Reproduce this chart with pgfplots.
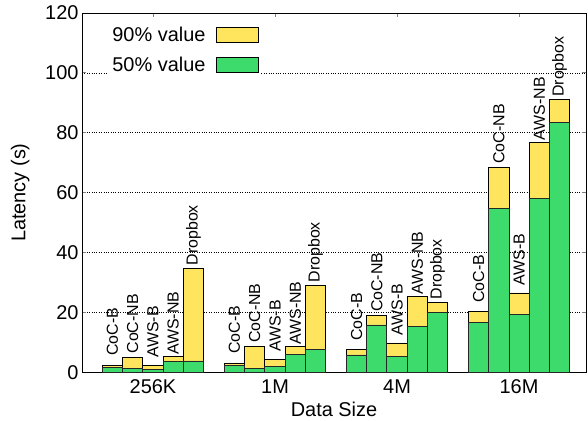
\documentclass[border=0pt]{standalone}
\usepackage{fontspec}
\setmainfont{Liberation Sans}
\usepackage{graphicx}
\usepackage{pgfplots}
\usepackage{pgfplotstable}
\pgfplotsset{compat=1.18}

\definecolor{pyellow}{HTML}{FFE45E}
\definecolor{pgreen}{HTML}{3DDB6C}

% latency (s); g = data size group (0=256K, 1=1M, 2=4M, 3=16M)
\pgfplotstableread{
g cocb cocnb awsb awsnb dropbox
0 2.4  5.1   2.4  5.3   34.7
1 3.1  8.7   4.4  8.7   29.0
2 7.5  19.0  9.8  25.4  23.3
3 20.2 68.5  26.5 76.9  91.0
}\pninety
\pgfplotstableread{
g cocb cocnb awsb awsnb dropbox
0 1.7  1.3   1.1  3.7   3.8
1 2.4  1.2   2.0  6.1   7.7
2 5.8  15.8  5.3  15.3  20.0
3 16.7 54.7  19.2 58.1  83.4
}\pfifty

% bar width in axis units
\def\bw{0.166}
% bar label: vertical text centred 33bp above the bar top
\newcommand{\blab}[1]{\rotatebox{90}{\makebox[66bp][c]{#1}}}

\begin{document}
\begin{tikzpicture}
\begin{axis}[
  at={(0,0)}, anchor=south west,
  scale only axis,
  width=504bp, height=359.3bp,
  xmin=-0.582, xmax=3.549,
  ymin=0, ymax=120,
  ytick={0,20,...,120},
  xtick={0,1,2,3},
  xticklabels={256K,1M,4M,16M},
  ymajorgrids,
  grid style={dotted, black, line width=0.6pt},
  major tick length=4bp,
  tick style={gray, line width=0.8pt},
  axis line style={black, line width=0.9pt},
  /pgf/number format/assume math mode=true,
  ticklabel style={font=\fontsize{20}{24}\selectfont},
  xticklabel style={yshift=-4bp},
  xlabel={Data Size},
  ylabel={Latency (s)},
  label style={font=\fontsize{20}{24}\selectfont},
  xlabel style={yshift=-1bp},
  ylabel style={yshift=9bp},
  clip=false,
  legend cell align=right,
  legend plot pos=right,
  legend style={draw=none, fill=white, at={(0.052,0.972)}, anchor=north west,
    font=\fontsize{20}{24}\selectfont, row sep=10bp, column sep=9bp, inner sep=2bp},
  bar width=\bw,
  yellowbar/.style={ybar, fill=pyellow, draw=black, line width=0.8pt, forget plot},
  greenbar/.style={ybar, fill=pgreen, draw=black!85, line width=0.8pt, forget plot},
  barlabel/.style={only marks, mark=none, forget plot,
    nodes near coords={\blab{#1}},
    nodes near coords style={font=\fontsize{16}{19}\selectfont, black,
      inner sep=0pt, anchor=south}},
]

\addlegendimage{area legend, legend image code/.code={\draw[fill=pyellow, draw=black, line width=0.8pt] (0bp,-7.5bp) rectangle (42bp,7.5bp);}}
\addlegendentry{90\% value}
\addlegendimage{area legend, legend image code/.code={\draw[fill=pgreen, draw=black, line width=0.8pt] (0bp,-7.5bp) rectangle (42bp,7.5bp);}}
\addlegendentry{50\% value}

% 90% values (full height)
\addplot[yellowbar, bar shift=-2*\bw] table[x=g, y=cocb]    {\pninety};
\addplot[yellowbar, bar shift=-1*\bw] table[x=g, y=cocnb]   {\pninety};
\addplot[yellowbar, bar shift=0]      table[x=g, y=awsb]    {\pninety};
\addplot[yellowbar, bar shift=\bw]    table[x=g, y=awsnb]   {\pninety};
\addplot[yellowbar, bar shift=2*\bw]  table[x=g, y=dropbox] {\pninety};

% 50% values, drawn over the 90% bars
\addplot[greenbar, bar shift=-2*\bw] table[x=g, y=cocb]    {\pfifty};
\addplot[greenbar, bar shift=-1*\bw] table[x=g, y=cocnb]   {\pfifty};
\addplot[greenbar, bar shift=0]      table[x=g, y=awsb]    {\pfifty};
\addplot[greenbar, bar shift=\bw]    table[x=g, y=awsnb]   {\pfifty};
\addplot[greenbar, bar shift=2*\bw]  table[x=g, y=dropbox] {\pfifty};

% system names above the 90% bars
\addplot[barlabel=CoC-B]   table[x expr=\thisrow{g}-2*\bw, y=cocb]    {\pninety};
\addplot[barlabel=CoC-NB]  table[x expr=\thisrow{g}-\bw,   y=cocnb]   {\pninety};
\addplot[barlabel=AWS-B]   table[x expr=\thisrow{g},       y=awsb]    {\pninety};
\addplot[barlabel=AWS-NB]  table[x expr=\thisrow{g}+\bw,   y=awsnb]   {\pninety};
\addplot[barlabel=Dropbox] table[x expr=\thisrow{g}+2*\bw, y=dropbox] {\pninety};

\end{axis}
\pgfresetboundingbox
\useasboundingbox (-82bp,-48.7bp) rectangle (506bp,372.3bp);
\end{tikzpicture}
\end{document}
